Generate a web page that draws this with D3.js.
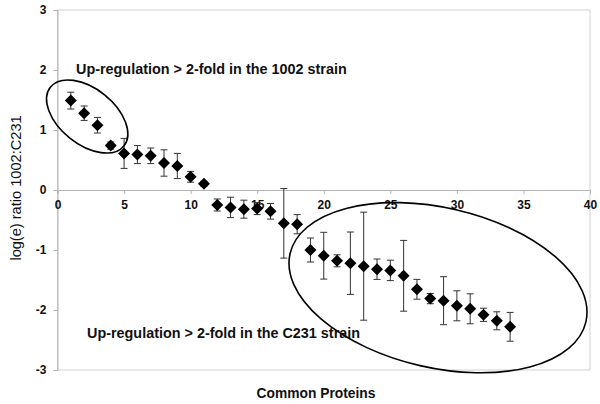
<!DOCTYPE html>
<html><head><meta charset="utf-8">
<script src="https://cdn.jsdelivr.net/npm/d3@7"></script>
<style>body{margin:0;background:#fff}svg{display:block;font-family:"Liberation Sans",Arial,sans-serif}</style>
</head><body><svg id="c" width="600" height="404"></svg>
<script>
const proteins = [1,2,3,4,5,6,7,8,9,10,11,12,13,14,15,16,17,18,19,20,21,22,23,24,25,26,27,28,29,30,31,32,33,34];
const ratios = [1.49,1.28,1.08,0.74,0.61,0.59,0.57,0.45,0.40,0.22,0.105,-0.25,-0.29,-0.32,-0.31,-0.355,-0.555,-0.57,-1.0,-1.095,-1.18,-1.22,-1.27,-1.32,-1.34,-1.43,-1.655,-1.81,-1.845,-1.93,-1.98,-2.08,-2.18,-2.28];
const errors = [0.14,0.12,0.13,0.06,0.25,0.15,0.13,0.22,0.21,0.09,0.04,0.1,0.17,0.15,0.1,0.13,0.58,0.16,0.2,0.39,0.1,0.52,0.9,0.17,0.17,0.59,0.165,0.085,0.4,0.25,0.25,0.11,0.15,0.24];
const xTicks = [0,5,10,15,20,25,30,35,40];
const yTicks = [-3,-2,-1,0,1,2,3];
const annotations = ["Up-regulation > 2-fold in the 1002 strain","Up-regulation > 2-fold in the C231 strain"];

const svg = d3.select("#c");
const x = d3.scaleLinear().domain([0,40]).range([57.5,590]);
const y = d3.scaleLinear().domain([-3,3]).range([370,10]);
const grid = "#b4b4b4";
const fmt = d => String(d);

// frame
svg.append("rect").attr("x",x(0)).attr("y",y(3)).attr("width",x(40)-x(0)).attr("height",y(-3)-y(3))
  .attr("fill","none").attr("stroke","#d0d0d0").attr("stroke-width",1);

// y axis
const ya = svg.append("g").attr("transform",`translate(${x(0)},0)`)
  .call(d3.axisLeft(y).tickValues(yTicks).tickSize(4).tickPadding(7).tickFormat(fmt));
ya.select(".domain").attr("stroke",grid);
ya.selectAll(".tick line").attr("stroke",grid);
ya.selectAll("text").attr("font-size",12).attr("font-weight","bold").attr("fill","#111").attr("font-family","Liberation Sans, Arial, sans-serif");

// x axis at zero
const xa = svg.append("g").attr("transform",`translate(0,${y(0)})`)
  .call(d3.axisBottom(x).tickValues(xTicks).tickSize(4).tickPadding(6).tickFormat(fmt));
xa.select(".domain").attr("stroke",grid);
xa.selectAll(".tick line").attr("stroke",grid);
xa.selectAll("text").attr("font-size",12).attr("font-weight","bold").attr("fill","#111").attr("font-family","Liberation Sans, Arial, sans-serif");

// error bars
const eb = svg.append("g").attr("stroke","#333").attr("stroke-width",1);
proteins.forEach((p,i)=>{
  const cx = x(p), t = y(ratios[i]+errors[i]), b = y(ratios[i]-errors[i]);
  eb.append("line").attr("x1",cx).attr("x2",cx).attr("y1",t).attr("y2",b);
  eb.append("line").attr("x1",cx-3.5).attr("x2",cx+3.5).attr("y1",t).attr("y2",t);
  eb.append("line").attr("x1",cx-3.5).attr("x2",cx+3.5).attr("y1",b).attr("y2",b);
});

// markers
svg.append("g").selectAll("path").data(proteins).join("path")
  .attr("d","M0,-6L6,0L0,6L-6,0Z")
  .attr("transform",(p,i)=>`translate(${x(p)},${y(ratios[i])})`)
  .attr("fill","#000");

// ellipses
svg.append("ellipse").attr("cx",87.2).attr("cy",116.5).attr("rx",47).attr("ry",27.8)
  .attr("transform","rotate(38.7,87.2,116.5)").attr("fill","none").attr("stroke","#000").attr("stroke-width",1.6);
svg.append("ellipse").attr("cx",438).attr("cy",287.7).attr("rx",151.8).attr("ry",80)
  .attr("transform","rotate(13,438,287.7)").attr("fill","none").attr("stroke","#000").attr("stroke-width",1.6);

// annotations
svg.append("text").attr("x",76).attr("y",74).attr("font-size",14.4).attr("font-weight","bold").attr("fill","#111").text(annotations[0]);
svg.append("text").attr("x",87).attr("y",338).attr("font-size",14.4).attr("font-weight","bold").attr("fill","#111").text(annotations[1]);

// axis titles
svg.append("text").attr("transform","translate(21,188) rotate(-90)").attr("text-anchor","middle")
  .attr("font-size",14.6).attr("fill","#111").text("log(e) ratio 1002:C231");
svg.append("text").attr("x",316).attr("y",398).attr("text-anchor","middle")
  .attr("font-size",13.8).attr("font-weight","bold").attr("fill","#111").text("Common Proteins");
</script></body></html>
